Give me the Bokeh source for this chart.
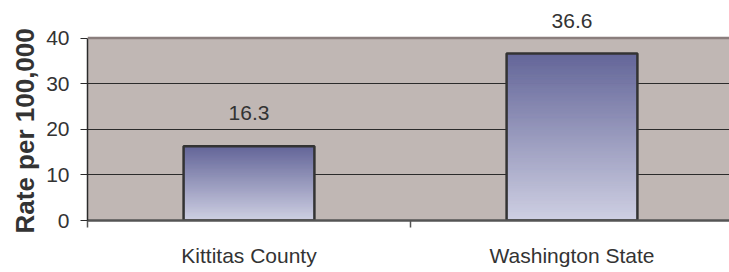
from bokeh.plotting import figure
from bokeh.models import Range1d, FixedTicker, LabelSet, ColumnDataSource, Span, Title
from bokeh.core.properties import value
from bokeh.embed import file_html
from bokeh.resources import INLINE

# ---- data ----
categories = ["Kittitas County", "Washington State"]
rates = [16.3, 36.6]
y_ticks = [0, 10, 20, 30, 40]
y_label = "Rate per 100,000"

# ---- style ----
FONT = "Liberation Sans"
TXT = "#333333"
BG = "#c0b7b4"
TOP_COLOR = (100, 102, 153)
BOT_COLOR = (207, 208, 227)
BAR_W = 0.405

ymax = y_ticks[-1]
n = len(categories)
xs = [i + 0.5 for i in range(n)]

p = figure(width=729, height=272, output_backend="svg", toolbar_location=None,
           x_range=Range1d(0, 1.9876), y_range=Range1d(0, 48.22),
           min_border_left=87, min_border_right=0, min_border_top=0, min_border_bottom=52)
p.outline_line_color = None
p.background_fill_color = "white"
p.border_fill_color = "white"

# plot-area shading
bg = p.quad(left=[0], right=[n], bottom=[0], top=[ymax], fill_color=BG, line_color=None)
bg.level = "image"

# grid
p.xgrid.visible = False
p.ygrid.ticker = FixedTicker(ticks=y_ticks[1:-1])
p.ygrid.grid_line_color = "#2b2b2b"
p.ygrid.grid_line_width = 1

p.add_layout(Span(location=ymax, dimension="width", line_color="#8a7e7d", line_width=2.5))

# gradient bars
N = 90
gx, gb, gt, gc = [], [], [], []
for x, v in zip(xs, rates):
    for k in range(N):
        b = v * k / N
        t = v * (k + 1) / N
        f = (k + 0.5) / N  # 0 bottom -> 1 top
        c = tuple(int(round(BOT_COLOR[j] + (TOP_COLOR[j] - BOT_COLOR[j]) * f)) for j in range(3))
        gx.append(x); gb.append(b); gt.append(t); gc.append("#%02x%02x%02x" % c)
p.vbar(x=gx, width=BAR_W, bottom=gb, top=gt, fill_color=gc, line_color=gc, line_width=1)
p.vbar(x=xs, width=BAR_W, bottom=0, top=rates, fill_color=None, line_color="#333333", line_width=2.5)

# value labels
src = ColumnDataSource(dict(x=xs, y=rates, t=["%.1f" % r for r in rates]))
p.add_layout(LabelSet(x="x", y="y", text="t", source=src, text_align="center",
                      text_baseline="alphabetic", y_offset=26, text_font=value(FONT),
                      text_font_size=value("21px"), text_color=TXT))

# y axis
ya = p.yaxis[0]
ya.ticker = FixedTicker(ticks=y_ticks)
ya.bounds = (0, ymax)
ya.axis_line_color = "#2b2b2b"
ya.axis_line_width = 1.5
ya.major_tick_out = 7
ya.major_tick_in = 0
ya.major_tick_line_color = "#2b2b2b"
ya.minor_tick_line_color = None
ya.major_label_text_font = FONT
ya.major_label_text_font_size = "21px"
ya.major_label_text_color = TXT
ya.major_label_standoff = 11

# y axis title as a side title (aligned to the bottom, shifted a little lower)
p.add_layout(Title(text=y_label, align="left", offset=-13, standoff=7,
                   text_font=FONT, text_font_size="26px", text_font_style="bold",
                   text_color=TXT), "left")

# x axis
xa = p.xaxis[0]
xa.ticker = FixedTicker(ticks=xs, minor_ticks=list(range(n + 1)))
xa.major_label_overrides = {x: c for x, c in zip(xs, categories)}
xa.axis_line_color = "#555555"
xa.axis_line_width = 2.5
xa.major_tick_line_color = None
xa.minor_tick_out = 7
xa.minor_tick_in = 0
xa.minor_tick_line_color = "#555555"
xa.minor_tick_line_width = 1.5
xa.major_label_text_font = FONT
xa.major_label_text_font_size = "21px"
xa.major_label_text_color = TXT
xa.major_label_standoff = 16

open("out.html", "w").write(file_html(p, INLINE))
